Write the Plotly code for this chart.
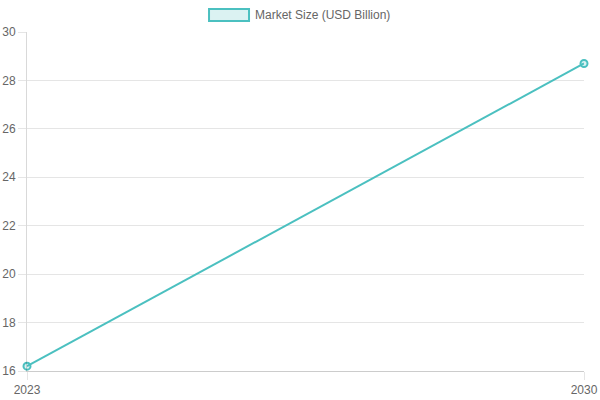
import plotly.graph_objects as go

years = [2023, 2030]
market_size = [16.2, 28.7]
y_ticks = [16, 18, 20, 22, 24, 26, 28, 30]
series_name = "Market Size (USD Billion)"

teal = "rgb(75, 192, 192)"
teal_fill = "rgba(75, 192, 192, 0.2)"
grid = "rgba(0, 0, 0, 0.1)"
font_col = "#666666"

fig = go.Figure()
fig.add_trace(go.Scatter(
    x=years,
    y=market_size,
    mode="lines+markers",
    name=series_name,
    line=dict(color=teal, width=2),
    marker=dict(size=7, color=teal_fill, line=dict(color=teal, width=2)),
    cliponaxis=False,
    showlegend=False,
))

# legend drawn like chart.js: 40x12 box + label
fig.add_shape(type="rect", xref="paper", yref="paper",
              x0=0.3268, x1=0.3986, y0=1.0324, y1=1.0678,
              line=dict(color=teal, width=2), fillcolor=teal_fill)
fig.add_annotation(text=series_name, xref="paper", yref="paper",
                   x=0.4057, y=1.0501, xanchor="left", yanchor="middle",
                   showarrow=False, font=dict(size=12, color=font_col))

fig.update_layout(
    width=600, height=400,
    margin=dict(l=27, r=16, t=32, b=29),
    plot_bgcolor="white", paper_bgcolor="white",
    font=dict(family="Liberation Sans, Arial, sans-serif", size=12, color=font_col),
    xaxis=dict(
        range=[years[0], years[-1]],
        tickvals=years,
        ticktext=[str(y) for y in years],
        showgrid=True, gridcolor=grid,
        ticks="outside", ticklen=8, tickcolor=grid,
        showline=True, linecolor="rgba(0,0,0,0.2)",
        zeroline=False, automargin=False,
    ),
    yaxis=dict(
        range=[16, 30],
        tickvals=y_ticks,
        showgrid=True, gridcolor=grid,
        ticks="outside", ticklen=8, tickcolor=grid,
        showline=True, linecolor="rgba(0,0,0,0.15)",
        zeroline=False, automargin=False,
    ),
)

# drop the default 8px body margin so the figure fills the window
fig.write_html("out.html", config={"displayModeBar": False},
               post_script="document.body.style.margin='0';")
